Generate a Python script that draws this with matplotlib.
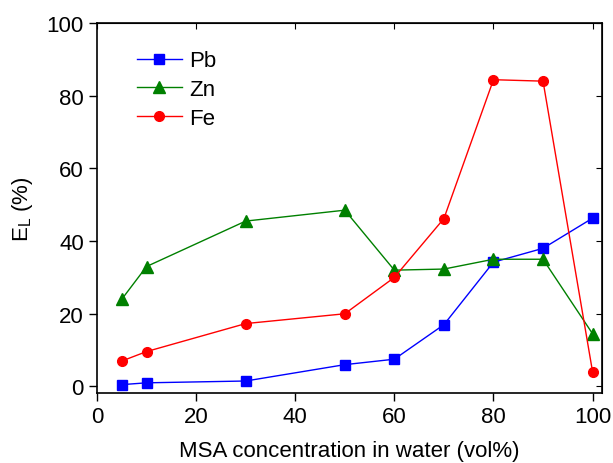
import matplotlib
matplotlib.use("Agg")
import matplotlib.pyplot as plt

plt.rcParams['font.family'] = ['Liberation Sans', 'DejaVu Sans']

x = [5, 10, 30, 50, 60, 70, 80, 90, 100]
pb = [0.5, 1.0, 1.5, 6.0, 7.5, 17.0, 34.2, 38.0, 46.3]
zn = [24.0, 33.0, 45.5, 48.5, 32.0, 32.3, 35.0, 35.0, 14.5]
fe = [7.0, 9.6, 17.3, 20.0, 30.0, 46.2, 84.4, 84.0, 4.0]

fig = plt.figure(figsize=(6.13, 4.64), dpi=100)
ax = fig.add_axes([97/613, 1-394/464, (602-97)/613, (394-24)/464])

ax.plot(x, pb, color='#0000ff', marker='s', markersize=7, lw=1, label='Pb')
ax.plot(x, zn, color='#008000', marker='^', markersize=8, lw=1, label='Zn')
ax.plot(x, fe, color='#ff0000', marker='o', markersize=7, lw=1, label='Fe')

ax.set_xlim(0, 101.9)
ax.set_ylim(-1.8, 100)
ax.set_xticks([0, 20, 40, 60, 80, 100])
ax.set_yticks([0, 20, 40, 60, 80, 100])
ax.tick_params(axis='both', labelsize=16, direction='out', length=6, width=1)
for s in ax.spines.values():
    s.set_linewidth(1.2)

# inward ticks on top/right
axt = ax.secondary_xaxis('top')
axt.set_xticks([0, 20, 40, 60, 80, 100])
axt.tick_params(direction='in', length=4, labeltop=False)
axt.set_xticklabels([])
axr = ax.secondary_yaxis('right')
axr.set_yticks([0, 20, 40, 60, 80, 100])
axr.tick_params(direction='in', length=4)
axr.set_yticklabels([])
ax.tick_params(top=False, right=False)

ax.set_xlabel('MSA concentration in water (vol%)', fontsize=16, labelpad=9)
ax.set_ylabel('E$_\\mathregular{L}$ (%)', fontsize=16, labelpad=8)

ax.legend(loc='upper left', bbox_to_anchor=(0.04, 0.98), frameon=False,
          fontsize=16, handlelength=2.0, labelspacing=0.35, handletextpad=0.35)

fig.savefig('out.png', dpi=100)
